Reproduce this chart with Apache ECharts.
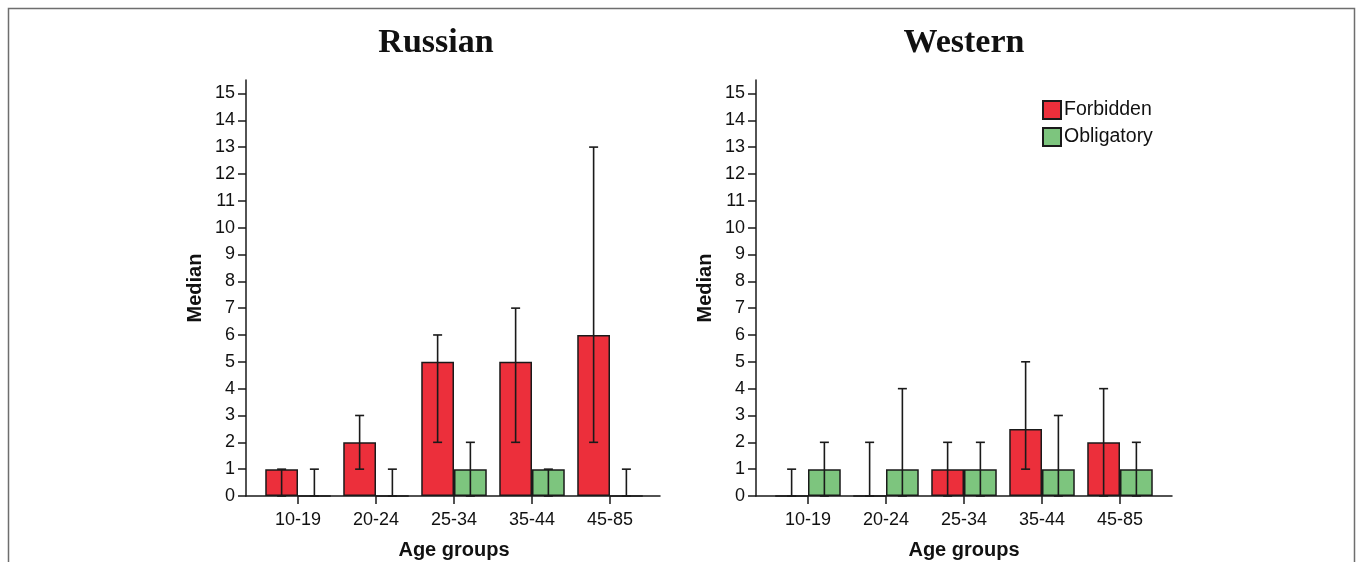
<!DOCTYPE html>
<html>
<head>
<meta charset="utf-8">
<script src="https://cdn.jsdelivr.net/npm/echarts@6/dist/echarts.min.js"></script>
<style>
html,body{margin:0;padding:0;background:#fff;}
#chart{width:1360px;height:562px;}
</style>
</head>
<body>
<div id="chart"></div>
<script>
// ---- data ----
const categories = ['10-19', '20-24', '25-34', '35-44', '45-85'];
const yTicks = [0,1,2,3,4,5,6,7,8,9,10,11,12,13,14,15];
const panelTitles = ['Russian', 'Western'];
const seriesNames = ['Forbidden', 'Obligatory'];

const ruForbidden     = [1, 2, 5, 5, 6];
const ruForbiddenLow  = [0, 1, 2, 2, 2];
const ruForbiddenHigh = [1, 3, 6, 7, 13];
const ruObligatory     = [0, 0, 1, 1, 0];
const ruObligatoryLow  = [0, 0, 0, 0, 0];
const ruObligatoryHigh = [1, 1, 2, 1, 1];

const weForbidden     = [0, 0, 1, 2.5, 2];
const weForbiddenLow  = [0, 0, 0, 1, 0];
const weForbiddenHigh = [1, 2, 2, 5, 4];
const weObligatory     = [1, 1, 1, 1, 1];
const weObligatoryLow  = [0, 0, 0, 0, 0];
const weObligatoryHigh = [2, 4, 2, 3, 2];

// ---- style ----
const RED = '#ec2f3b';
const GREEN = '#7dc57e';
const DARK = '#1a1a1a';
const YMAX = 15.5;
const SANS = 'Liberation Sans, Arial, sans-serif';

const chart = echarts.init(document.getElementById('chart'), null, {renderer: 'canvas'});

function errData(lo, hi) { return lo.map((v, i) => [i, v, hi[i]]); }

function errSeries(name, lo, hi, xIdx, yIdx, sign) {
  return {
    type: 'custom',
    name: name + ' err',
    xAxisIndex: xIdx, yAxisIndex: yIdx,
    z: 10,
    silent: true,
    encode: {x: 0, y: [1, 2]},
    data: errData(lo, hi),
    renderItem: function (params, api) {
      const band = api.size([1, 0])[0];
      const off = sign * band * 0.21;
      const p0 = api.coord([api.value(0), api.value(1)]);
      const p1 = api.coord([api.value(0), api.value(2)]);
      const x = p0[0] + off;
      const cap = 4.5;
      const style = {stroke: DARK, lineWidth: 1.6, fill: null};
      return {
        type: 'group',
        children: [
          {type: 'line', shape: {x1: x, y1: p0[1], x2: x, y2: p1[1]}, style: style},
          {type: 'line', shape: {x1: x - cap, y1: p1[1], x2: x + cap, y2: p1[1]}, style: style},
          {type: 'line', shape: {x1: x - cap, y1: p0[1], x2: x + cap, y2: p0[1]}, style: style}
        ]
      };
    }
  };
}

function barSeries(name, data, color, xIdx, yIdx) {
  return {
    type: 'bar',
    name: name,
    xAxisIndex: xIdx, yAxisIndex: yIdx,
    data: data,
    barGap: '0%',
    barCategoryGap: '16%',
    itemStyle: {color: color, borderColor: DARK, borderWidth: 1.5},
    emphasis: {disabled: true},
    z: 2
  };
}

// grids: 0 = left frame, 1 = left data, 2 = right frame, 3 = right data
const grids = [
  {left: 246, top: 80, width: 414, height: 416, outerBoundsMode: 'none', containLabel: false},
  {left: 259, top: 80, width: 390, height: 416, outerBoundsMode: 'none', containLabel: false},
  {left: 756, top: 80, width: 416, height: 416, outerBoundsMode: 'none', containLabel: false},
  {left: 769, top: 80, width: 390, height: 416, outerBoundsMode: 'none', containLabel: false}
];

function frameX(g) {
  return {
    type: 'value', gridIndex: g, min: 0, max: 1,
    axisLine: {show: true, onZero: false, lineStyle: {color: DARK, width: 1.5}},
    axisTick: {show: false}, axisLabel: {show: false}, splitLine: {show: false}
  };
}
function dataX(g) {
  return {
    type: 'category', gridIndex: g, data: categories,
    axisLine: {show: false},
    axisTick: {show: true, alignWithLabel: true, length: 8, inside: false, lineStyle: {color: DARK, width: 1.5}},
    axisLabel: {fontFamily: SANS, fontSize: 18, color: '#111', margin: 15},
    name: 'Age groups', nameLocation: 'middle', nameGap: 44,
    nameTextStyle: {fontFamily: SANS, fontSize: 20, fontWeight: 'bold', color: '#111'}
  };
}
function frameY(g) {
  return {
    type: 'value', gridIndex: g, min: 0, max: YMAX, interval: 1,
    axisLine: {show: true, lineStyle: {color: DARK, width: 1.5}},
    axisTick: {show: true, length: 8, customValues: yTicks, lineStyle: {color: DARK, width: 1.5}},
    axisLabel: {customValues: yTicks, fontFamily: SANS, fontSize: 18, color: '#111', margin: 11},
    splitLine: {show: false},
    name: 'Median', nameLocation: 'middle', nameGap: 41, nameRotate: 90,
    nameTextStyle: {fontFamily: SANS, fontSize: 20, fontWeight: 'bold', color: '#111'}
  };
}
function dataY(g) {
  return {type: 'value', gridIndex: g, min: 0, max: YMAX, show: false, splitLine: {show: false}};
}

const option = {
  backgroundColor: '#ffffff',
  animation: false,
  title: [
    {text: panelTitles[0], left: 431, top: 21, textAlign: 'center',
     textStyle: {fontFamily: 'Liberation Serif, Times New Roman, serif', fontSize: 34, fontWeight: 'bold', color: '#111'}},
    {text: panelTitles[1], left: 959, top: 21, textAlign: 'center',
     textStyle: {fontFamily: 'Liberation Serif, Times New Roman, serif', fontSize: 34, fontWeight: 'bold', color: '#111'}}
  ],
  legend: {
    data: seriesNames,
    orient: 'vertical',
    left: 1042, top: 100, padding: 0,
    itemWidth: 18, itemHeight: 18, itemGap: 7,
    icon: 'rect',
    selectedMode: false,
    textStyle: {fontFamily: SANS, fontSize: 19.5, color: '#111', padding: [0, 0, 0, -2]}
  },
  grid: grids,
  xAxis: [frameX(0), dataX(1), frameX(2), dataX(3)],
  yAxis: [frameY(0), dataY(1), frameY(2), dataY(3)],
  graphic: [{
    type: 'rect', silent: true,
    shape: {x: 8.5, y: 8.5, width: 1346, height: 600},
    style: {fill: null, stroke: '#6e6e6e', lineWidth: 1.5}
  }],
  series: [
    barSeries(seriesNames[0], ruForbidden, RED, 1, 1),
    barSeries(seriesNames[1], ruObligatory, GREEN, 1, 1),
    errSeries(seriesNames[0], ruForbiddenLow, ruForbiddenHigh, 1, 1, -1),
    errSeries(seriesNames[1], ruObligatoryLow, ruObligatoryHigh, 1, 1, 1),
    barSeries(seriesNames[0], weForbidden, RED, 3, 3),
    barSeries(seriesNames[1], weObligatory, GREEN, 3, 3),
    errSeries(seriesNames[0], weForbiddenLow, weForbiddenHigh, 3, 3, -1),
    errSeries(seriesNames[1], weObligatoryLow, weObligatoryHigh, 3, 3, 1)
  ]
};
chart.setOption(option);
</script>
</body>
</html>
